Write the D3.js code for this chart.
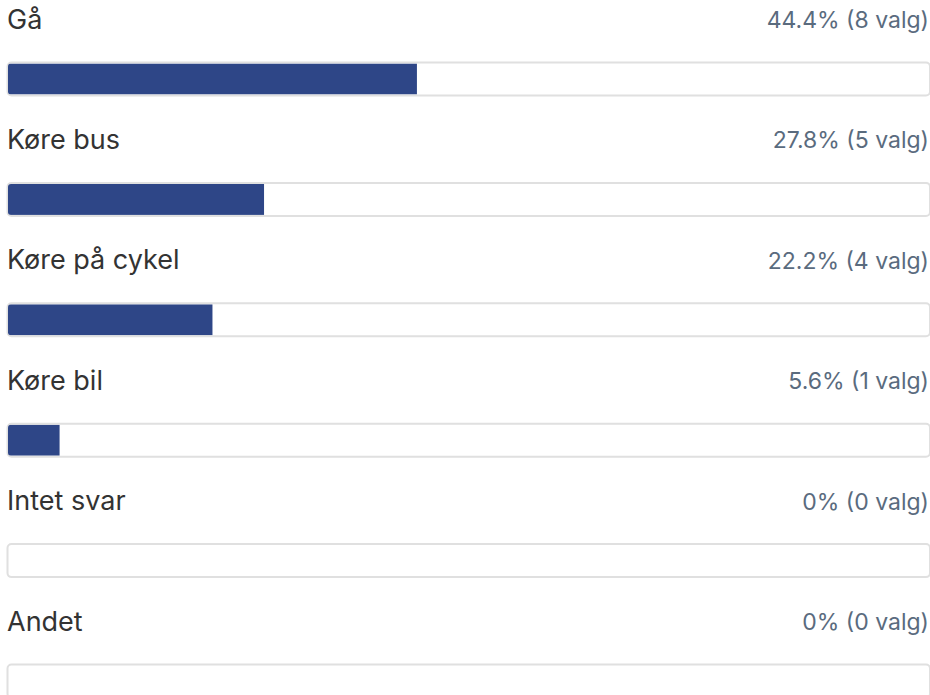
<!DOCTYPE html>
<html><head><meta charset="utf-8">
<script src="https://cdn.jsdelivr.net/npm/d3@7"></script>
<style>html,body{margin:0;padding:0;background:#fff;overflow:hidden}</style>
</head><body>
<svg id="c" width="930" height="695"></svg>
<script>
const categories = ["Gå", "Køre bus", "Køre på cykel", "Køre bil", "Intet svar", "Andet"];
const percents = [44.4, 27.8, 22.2, 5.6, 0, 0];
const counts = [8, 5, 4, 1, 0, 0];
const valueLabels = ["44.4% (8 valg)", "27.8% (5 valg)", "22.2% (4 valg)", "5.6% (1 valg)", "0% (0 valg)", "0% (0 valg)"];

const svg = d3.select("#c");
const x = d3.scaleLinear().domain([0, 100]).range([8, 929]);
const y = d3.scaleBand().domain(categories).range([0, 722.4]).paddingInner(0).paddingOuter(0);

const rows = svg.selectAll("g.row").data(categories).join("g")
  .attr("class", "row")
  .attr("transform", d => `translate(0,${y(d)})`);

rows.append("text")
  .attr("x", 7).attr("y", 28.5)
  .attr("font-family", "Inter, Roboto, sans-serif")
  .attr("font-size", 27)
  .attr("fill", "#333333")
  .text(d => d);

rows.append("text")
  .attr("x", 929).attr("y", 28)
  .attr("text-anchor", "end")
  .attr("font-family", "Inter, Roboto, sans-serif")
  .attr("font-size", 23)
  .attr("fill", "#5a6b7e")
  .text((d, i) => valueLabels[i]);

rows.append("rect")
  .attr("x", 7.5).attr("y", 62.5)
  .attr("width", x(100) - 7.5 + 1).attr("height", 33)
  .attr("rx", 4)
  .attr("fill", "#fff")
  .attr("stroke", "#e0e0e0")
  .attr("stroke-width", 2);

rows.append("clipPath").attr("id", (d, i) => "cp" + i)
  .append("rect")
  .attr("x", 8).attr("y", 63.5).attr("width", x(100) - 8).attr("height", 31).attr("rx", 3);

rows.append("rect")
  .attr("clip-path", (d, i) => `url(#cp${i})`)
  .attr("x", x(0)).attr("y", 63.5)
  .attr("width", (d, i) => x(percents[i]) - x(0))
  .attr("height", 31)
  .attr("fill", "#2e4687");
</script>
</body></html>
